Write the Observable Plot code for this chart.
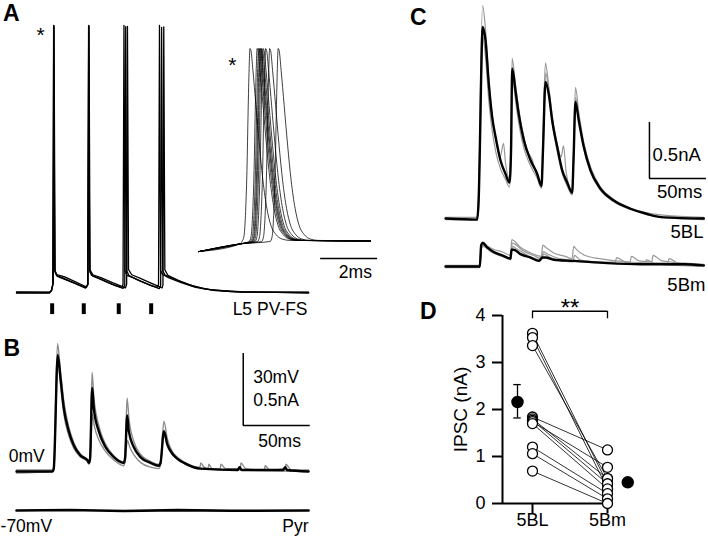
<!DOCTYPE html>
<html><head><meta charset="utf-8">
<script src="https://cdn.jsdelivr.net/npm/d3@7"></script>
<script src="https://cdn.jsdelivr.net/npm/@observablehq/plot@0.6"></script>
<style>
html,body{margin:0;padding:0;background:#fff;}
#fig{position:relative;width:708px;height:538px;overflow:hidden;font-family:'Liberation Sans',Arial,Helvetica,sans-serif;}
.lbl{position:absolute;font-weight:bold;font-size:23px;line-height:23px;color:#000;}
</style></head><body><div id="fig"></div>
<script>
// ================= DATA =================
// Panel A: L5 PV-FS membrane potential, [time ms, mV], three overlaid trials
const aTrial1 = [[0,-70],[24.6,-70],[26.1,-69.2],[27.2,-66.3],[27.8,41.3],[28.6,-60.8],[29.9,-62.9],[34.3,-63.8],[40.3,-65.4],[47.8,-67.1],[52.2,-67.9],[53.2,-66.7],[53.9,41.3],[54.6,-60.8],[56,-62.9],[60.4,-63.8],[66.4,-65.4],[73.9,-67.1],[78.4,-67.9],[79.5,-66.7],[80.2,41.3],[81,-60.8],[82.4,-62.9],[86.9,-63.8],[92.9,-65.4],[100.4,-67.1],[104.9,-67.9],[106,-66.7],[106.7,41.3],[107.5,-60.8],[109,-62.5],[113.4,-63.8],[122.4,-65.8],[133.6,-67.9],[148.5,-69.2],[167.2,-69.8],[218,-70]];
const aTrial2 = [[0,-70.3],[24.6,-70.2],[26.3,-69],[27.4,-66],[28,41],[28.8,-61.5],[30.5,-63.3],[36,-64.5],[44,-66.3],[51.5,-68.2],[53.4,-66.5],[54.1,41],[54.9,-61.5],[57,-63.2],[63,-64.5],[71,-66.5],[79.5,-68.3],[80.8,-67],[81.5,40.8],[82.3,-61],[84,-63],[90,-64.6],[98,-66.5],[106.5,-68.4],[107.6,-67],[108.3,40.5],[109.1,-61],[111,-62.8],[118,-64.4],[128,-66.6],[140,-68.5],[160,-69.6],[218,-70.2]];
const aTrial3 = [[0,-69.8],[24.6,-69.9],[26,-69.3],[27.1,-66.5],[27.7,41.2],[28.5,-60.5],[30,-62.5],[36,-63.5],[44,-65.6],[52,-67.6],[53.1,-66.6],[53.8,41.1],[54.6,-60.3],[57,-62.6],[63,-63.8],[72,-66],[81.3,-68.1],[82.2,-66.5],[82.8,40.9],[83.6,-60.5],[86,-62.6],[92,-64],[100,-66],[108.6,-68.1],[109.3,-66.8],[109.9,40.7],[110.7,-60.6],[113,-62.8],[121,-65],[132,-67.3],[145,-68.9],[170,-69.8],[218,-69.9]];
const aStimTimes = [26.6, 50.2, 76.3, 100.5];
// Panel A inset: spike waveform [ms from peak, mV], peak times (ms), pre-spike ramp, end point
const insetShape = [[-0.281,-65],[-0.211,-62.2],[-0.158,-50.6],[-0.105,-25.6],[-0.063,7.8],[-0.028,31.1],[0,42.2],[0.035,41.1],[0.105,30],[0.211,10.6],[0.333,-11.7],[0.456,-31.1],[0.596,-46.7],[0.737,-56.1],[0.912,-61.1],[1.123,-63.6],[1.404,-64.4]];
const insetPeakTimes = [1.91, 2.16, 2.21, 2.25, 2.28, 2.32, 2.37, 2.46, 2.60, 2.90];
const insetRamp = [[0.12,-70.6],[1.58,-66.3],[2.63,-64.4]];
const insetEnd = [6.14, -64.7];
// Panel B: Pyr IPSC at 0 mV [ms, nA]
const bMean = [[0,0],[26.9,0],[27.8,0.02],[30.8,0.81],[32.8,0.65],[35.3,0.44],[39,0.28],[42.8,0.18],[47.8,0.11],[52.8,0.08],[54.1,0.06],[54.9,0.09],[56.5,0.58],[57.7,0.44],[61.4,0.28],[66.4,0.17],[72.6,0.10],[80.1,0.06],[81,0.09],[82.6,0.39],[83.8,0.28],[87.5,0.17],[92.5,0.10],[100,0.06],[106.2,0.04],[107.5,0.06],[110,0.28],[112.5,0.19],[116.2,0.125],[119.9,0.09],[126.1,0.055],[137.3,0.02],[165,0.01],[166.5,0.03],[168,0.01],[199,0.01],[200.5,0.03],[202,0.01],[218,0]];
const bTrialHigh = [[0,0.01],[26.9,0.01],[27.8,0.03],[30.6,0.89],[32.6,0.72],[35.3,0.49],[39,0.31],[42.8,0.2],[47.8,0.12],[52.8,0.085],[54.1,0.07],[54.9,0.1],[56.4,0.69],[57.7,0.52],[61.4,0.32],[66.4,0.19],[72.6,0.11],[80.1,0.065],[81,0.1],[82.5,0.51],[84,0.36],[87.5,0.21],[92.5,0.12],[100,0.07],[106.2,0.05],[107.5,0.07],[110,0.35],[112.5,0.23],[116.2,0.14],[120,0.1],[126,0.06],[137,0.03],[137.5,0.06],[140,0.03],[143,0.02],[143.5,0.05],[146,0.02],[152,0.02],[152.5,0.05],[156,0.02],[167,0.02],[167.5,0.06],[171,0.02],[185,0.01],[185.5,0.04],[189,0.01],[200.5,0.02],[201,0.05],[205,0.01],[218,0.01]];
const bTrialLow = [[0,-0.01],[26.9,0],[27.9,0.02],[30.9,0.78],[32.9,0.6],[35.3,0.4],[39,0.25],[42.8,0.16],[47.8,0.1],[52.8,0.07],[54.1,0.05],[55,0.08],[56.6,0.40],[58,0.32],[61.4,0.22],[66.4,0.14],[72.6,0.08],[80.1,0.04],[81,0.07],[82.8,0.215],[84.5,0.17],[88,0.11],[93,0.06],[100,0.03],[106.2,0.02],[107.5,0.05],[110.1,0.27],[112.5,0.18],[116.2,0.12],[120,0.085],[126,0.05],[137,0.02],[218,0]];
// Panel B: Pyr at -70 mV (flat) [ms, nA]
const bPyr = [[0,0],[40,0.004],[80,-0.003],[120,0.003],[160,-0.002],[218,0]];
// Panel C: 5BL IPSC [ms, nA]
const c5BLMean = [[0,0],[27.8,-0.01],[28.9,0.12],[32.7,1.71],[35.1,1.59],[38,1.20],[41,0.90],[43.9,0.73],[48.2,0.52],[52.6,0.40],[56.1,0.32],[57.5,0.61],[58.5,1.34],[61.4,1.14],[64.3,0.93],[68.7,0.70],[74.6,0.52],[80.4,0.40],[84.2,0.29],[85.5,0.61],[87.7,1.22],[90.6,1.11],[93.6,0.875],[98,0.64],[102.4,0.43],[106.8,0.32],[111.1,0.23],[112.3,0.52],[114,1.04],[116.9,0.875],[121.3,0.64],[127.2,0.43],[136,0.265],[147.6,0.16],[162.3,0.087],[176.9,0.04],[191.5,0.01],[226.6,0]];
const c5BLTrialHigh = [[0,0.01],[27.8,0.01],[28.9,0.2],[32.5,1.90],[35,1.7],[38,1.25],[41,0.92],[43.9,0.72],[48,0.55],[50.9,0.67],[52.6,0.5],[56.1,0.36],[57.5,0.7],[58.4,1.43],[61.4,1.2],[64.3,0.97],[68.7,0.73],[72,0.6],[76.3,0.52],[78,0.45],[80.4,0.38],[84.2,0.3],[85.5,0.7],[87.6,1.39],[90.6,1.18],[93.6,0.92],[98,0.66],[101.5,0.55],[103.5,0.65],[106,0.4],[111.1,0.25],[112.3,0.6],[114,1.17],[116.9,0.95],[121.3,0.68],[127.2,0.46],[136,0.28],[147.6,0.17],[162.3,0.09],[176.9,0.05],[191.5,0.03],[226.6,0.01]];
const c5BLTrialLow = [[0,-0.01],[27.8,-0.01],[29,0.15],[32.8,1.62],[35,1.45],[38,1.05],[41,0.78],[44,0.6],[48,0.45],[52.6,0.35],[56.1,0.28],[57.5,0.55],[58.6,1.28],[61.4,1.05],[64.3,0.85],[68.7,0.63],[74.6,0.47],[80.4,0.36],[84.2,0.27],[85.5,0.55],[87.9,1.30],[90.6,1.12],[93.6,0.85],[98,0.6],[102.4,0.4],[106.8,0.29],[111.1,0.21],[112.3,0.5],[114.1,1.08],[116.9,0.9],[121.3,0.62],[127.2,0.41],[136,0.25],[147.6,0.15],[162.3,0.08],[176.9,0.035],[191.5,0.01],[226.6,-0.01]];
// Panel C: 5Bm IPSC [ms, nA]
const c5BmMean = [[0,0],[30.1,0],[31.3,0.19],[32.7,0.21],[36.6,0.17],[42.4,0.13],[49.7,0.1],[57,0.07],[57.9,0.15],[59.9,0.15],[65.8,0.11],[74.6,0.08],[81.9,0.05],[84.9,0.08],[87.7,0.08],[95,0.06],[112.6,0.05],[141.8,0.03],[171,0.02],[209,0.02],[226.6,0.01]];
const c5BmTrial1 = [[0,0.01],[30,0.01],[31.2,0.2],[32.6,0.22],[37,0.18],[43,0.15],[50,0.13],[57,0.1],[58.2,0.24],[60,0.23],[66,0.17],[75,0.12],[84,0.09],[85.4,0.19],[88,0.17],[95,0.12],[105,0.09],[111,0.07],[112.5,0.18],[115,0.15],[122,0.1],[135,0.07],[150,0.05],[162,0.04],[163,0.09],[170,0.05],[181,0.04],[182,0.1],[190,0.05],[210,0.03],[226.6,0.02]];
const c5BmTrial2 = [[0,-0.01],[30,-0.01],[31.4,0.17],[33,0.19],[38,0.15],[45,0.11],[53,0.08],[57.3,0.06],[58.4,0.21],[61,0.2],[68,0.14],[77,0.1],[84.2,0.07],[85.6,0.13],[90,0.11],[100,0.07],[120,0.05],[140,0.04],[149,0.04],[150,0.08],[158,0.04],[195,0.03],[196,0.07],[204,0.03],[226.6,0]];
const c5BmTrial3 = [[0,0],[30.2,0],[31.5,0.16],[33,0.18],[40,0.13],[50,0.09],[57.5,0.07],[58.6,0.18],[62,0.16],[72,0.1],[84.5,0.06],[86,0.11],[92,0.08],[112,0.04],[113,0.1],[118,0.06],[140,0.03],[175,0.02],[176,0.06],[185,0.02],[226.6,0]];
// Panel D: IPSC amplitude (nA), paired cells
const groups = ["5BL", "5Bm"];
const ipsc5BL = [3.62, 3.53, 3.36, 1.84, 1.80, 1.77, 1.74, 1.70, 1.20, 1.06, 0.69];
const ipsc5Bm = [0.42, 0.31, 0.53, 1.14, 0.53, 0.42, 0.77, 0.31, 0.21, 0.10, 0.00];
const mean5BL = 2.16, sem5BL = [1.82, 2.53], mean5Bm = 0.45;

// ================= LAYOUT =================
const FONT = "'Liberation Sans', Arial, Helvetica, sans-serif";
const FS = 17.5;
const fig = document.getElementById("fig");
const pts = (arr, trial) => arr.map(([t, v]) => ({t, v, trial}));

function place(el, left, top) {
  el.style.position = "absolute";
  el.style.left = left + "px";
  el.style.top = top + "px";
  fig.append(el);
}
// panel: pixel box + mapping (x0,y0 = page px of data zero; xs,ys = px per unit)
function panel({left, top, width, height, x0, xs, y0, ys, marks}) {
  const chart = Plot.plot({
    width, height, margin: 0,
    x: {domain: [(left - x0) / xs, (left + width - x0) / xs], axis: null},
    y: {domain: [(y0 - top - height) / ys, (y0 - top) / ys], axis: null},
    style: {background: "transparent", overflow: "visible", fontFamily: FONT, color: "black"},
    marks
  });
  place(chart, left, top);
}
function label(x, y, text, o = {}) {
  return Plot.text([{x, y, text}], {x: "x", y: "y", text: "text", fontSize: o.size ?? FS,
    textAnchor: o.anchor ?? "middle", lineAnchor: "middle", fill: "black", rotate: o.rotate ?? 0});
}
function letter(ch, left, top) {
  const d = document.createElement("div");
  d.className = "lbl"; d.textContent = ch;
  d.style.left = left + "px"; d.style.top = top + "px";
  fig.append(d);
}

// ---- Panel A ----
const aData = [...pts(aTrial1, 1), ...pts(aTrial2, 2), ...pts(aTrial3, 3)];
panel({left: 0, top: 0, width: 330, height: 325, x0: 16, xs: 1.34, y0: 124, ys: 2.4, marks: [
  Plot.line(aData, {x: "t", y: "v", z: "trial", stroke: "black", strokeWidth: 1.3}),
  Plot.ruleX(aStimTimes, {y1: -74.7, y2: -79.2, strokeWidth: 4, stroke: "black"}),
  label(217.2, -77.1, "L5 PV-FS", {anchor: "end"}),
  label(17.9, 37, "*", {size: 21})
]});
// inset
const insetData = insetPeakTimes.flatMap((p, i) => {
  const onset = p + insetShape[0][0];
  const seq = [...insetRamp.filter(d => d[0] < onset), ...insetShape.map(([dt, v]) => [p + dt, v]), insetEnd];
  return pts(seq, i);
});
const insetBarMs = 2;
panel({left: 190, top: 30, width: 200, height: 260, x0: 195, xs: 28.5, y0: 124, ys: 1.8, marks: [
  Plot.line(insetData, {x: "t", y: "v", z: "trial", stroke: "black", strokeWidth: 0.75, curve: "monotone-x"}),
  Plot.ruleY([-74.4], {x1: 4.39, x2: 4.39 + insetBarMs, strokeWidth: 1.5, stroke: "black"}),
  label(5.61, -82.2, "2ms"),
  label(1.29, 32.7, "*", {size: 21})
]});

// ---- Panel B ----
const pyrOffset = -0.271;
const barMs = 50, barNA = 0.5;
panel({left: 0, top: 325, width: 330, height: 213, x0: 16, xs: 1.34, y0: 471, ys: 144, marks: [
  Plot.line([...pts(bTrialHigh, 1), ...pts(bTrialLow, 2)], {x: "t", y: "v", z: "trial", stroke: "#8c8c8c", strokeWidth: 1.4, curve: "monotone-x"}),
  Plot.line(pts(bMean, 0), {x: "t", y: "v", stroke: "black", strokeWidth: 2.4, curve: "monotone-x"}),
  Plot.line(pts(bPyr, 0), {x: "t", y: d => d.v + pyrOffset, stroke: "black", strokeWidth: 2.6}),
  Plot.ruleX([169.2], {y1: 0.32, y2: 0.32 + barNA, strokeWidth: 1.5, stroke: "black"}),
  Plot.ruleY([0.32], {x1: 169.2, x2: 169.2 + barMs, strokeWidth: 1.5, stroke: "black"}),
  label(176.6, 0.655, "30mV", {anchor: "start"}),
  label(176.6, 0.493, "0.5nA", {anchor: "start"}),
  label(196.3, 0.208, "50ms"),
  label(-5.75, 0.104, "0mV", {anchor: "start"}),
  label(-11.9, -0.382, "-70mV", {anchor: "start"}),
  label(217.9, -0.382, "Pyr", {anchor: "end"})
]});

// ---- Panel C ----
const bmOffset = -0.4286;
panel({left: 430, top: 0, width: 278, height: 295, x0: 445, xs: 1.14, y0: 218, ys: 112, marks: [
  Plot.line([...pts(c5BLTrialHigh, 1), ...pts(c5BLTrialLow, 2)], {x: "t", y: "v", z: "trial", stroke: "#999", strokeWidth: 1.2, curve: "monotone-x"}),
  Plot.line(pts(c5BLMean, 0), {x: "t", y: "v", stroke: "black", strokeWidth: 2.4, curve: "monotone-x"}),
  Plot.line([...pts(c5BmTrial1, 1), ...pts(c5BmTrial2, 2), ...pts(c5BmTrial3, 3)], {x: "t", y: d => d.v + bmOffset, z: "trial", stroke: "#999", strokeWidth: 1.2, curve: "monotone-x"}),
  Plot.line(pts(c5BmMean, 0), {x: "t", y: d => d.v + bmOffset, stroke: "black", strokeWidth: 2.4, curve: "monotone-x"}),
  Plot.ruleX([178.9], {y1: 0.357, y2: 0.357 + barNA, strokeWidth: 1.5, stroke: "black"}),
  Plot.ruleY([0.357], {x1: 178.9, x2: 178.9 + barMs, strokeWidth: 1.5, stroke: "black"}),
  label(181.5, 0.5625, "0.5nA", {anchor: "start", size: 18.5}),
  label(205.3, 0.237, "50ms", {size: 18.5}),
  label(226.3, -0.125, "5BL", {anchor: "end", size: 18.5}),
  label(228, -0.598, "5Bm", {anchor: "end", size: 18.5})
]});

// ---- Panel D ----
const pairs = ipsc5BL.map((bl, i) => ({bl, bm: ipsc5Bm[i]}));
const dChart = Plot.plot({
  width: 268, height: 248,
  marginLeft: 62, marginRight: 63.5, marginTop: 25, marginBottom: 35,
  x: {domain: [0.6, 2.5], axis: null},
  y: {domain: [0, 4], axis: null},
  style: {background: "transparent", overflow: "visible", fontFamily: FONT, color: "black"},
  marks: [
    Plot.ruleX([0.6], {y1: 0, y2: 4, strokeWidth: 2, stroke: "black"}),
    Plot.ruleY([0], {x1: 0.6, x2: 2, strokeWidth: 2, stroke: "black"}),
    Plot.axisY({ticks: [0, 1, 2, 3, 4], tickFormat: d3.format("d"), tickSize: 10, tickPadding: 7, strokeWidth: 2, fontSize: 18, label: null}),
    Plot.axisX({ticks: [1, 2], tickFormat: d => groups[d - 1], tickSize: 10, tickPadding: 0, strokeWidth: 2, fontSize: 18, label: null}),
    Plot.text([{x: 0.04, y: 2, t: "IPSC (nA)"}], {x: "x", y: "y", text: "t", rotate: -90, fontSize: 19, lineAnchor: "middle", fill: "black"}),
    Plot.ruleY([4.09], {x1: 1, x2: 2, strokeWidth: 1.3, stroke: "black"}),
    Plot.ruleX([1, 2], {y1: 3.93, y2: 4.09, strokeWidth: 1.3, stroke: "black"}),
    Plot.text([{x: 1.5, y: 4.15, t: "**"}], {x: "x", y: "y", text: "t", fontSize: 24, lineAnchor: "middle", fill: "black"}),
    Plot.link(pairs, {x1: 1, y1: "bl", x2: 2, y2: "bm", stroke: "black", strokeWidth: 0.8}),
    Plot.dot(pairs, {x: 1, y: "bl", r: 5, stroke: "black", fill: "white", strokeWidth: 1.3}),
    Plot.dot(pairs, {x: 2, y: "bm", r: 5, stroke: "black", fill: "white", strokeWidth: 1.3}),
    Plot.ruleX([0.8], {y1: sem5BL[0], y2: sem5BL[1], stroke: "black", strokeWidth: 1.3}),
    Plot.ruleY(sem5BL, {x1: 0.75, x2: 0.85, stroke: "black", strokeWidth: 1.3}),
    Plot.dot([{x: 0.8, y: mean5BL}, {x: 2.27, y: mean5Bm}], {x: "x", y: "y", r: 5.5, fill: "black", stroke: "black"})
  ]
});
place(dChart, 440, 290);

// ---- Panel letters ----
letter("A", 3, 2);
letter("B", 3.5, 337);
letter("C", 410, 6);
letter("D", 420, 300);
</script></body></html>
